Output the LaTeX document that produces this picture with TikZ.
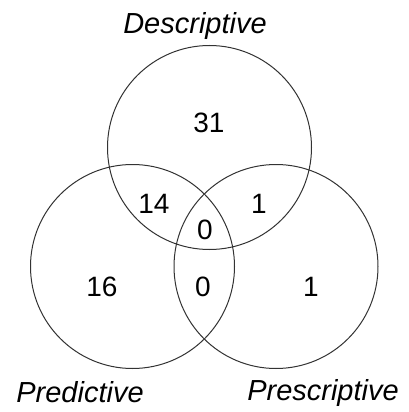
\documentclass[tikz,border=0pt]{standalone}
\usepackage{fontspec}
\setmainfont{Liberation Sans}
\usepackage{tikz}
\usetikzlibrary{positioning}

\begin{document}
\begin{tikzpicture}[x=1pt, y=-1pt,
    set/.style={circle, draw=black!80, line width=1pt, minimum size=204pt, inner sep=0pt},
    count/.style={font=\fontsize{28}{33}\selectfont, anchor=base},
    setname/.style={font=\fontsize{29}{34}\selectfont\itshape, anchor=base}]
    \useasboundingbox (0,0) rectangle (409,412);

    % the three sets
    \node [set] (desc) at (209.5,147.5) {};
    \node [set] (pred) at (132.5,266.5) {};
    \node [set] (presc) at (276,266.5) {};

    % set names
    \node [setname] (ldesc) at (195,34) {Descriptive};
    \node [setname] (lpred) at (80,402) {Predictive};
    \node [setname] (lpresc) at (323,400) {Prescriptive};

    % counts
    \node [count] (n31) at (209,132) {31};
    \node [count] (n14) at (154,213) {14};
    \node [count] (n1a) at (259,213) {1};
    \node [count] (n0a) at (205,239) {0};
    \node [count] (n16) at (102,296) {16};
    \node [count] (n0b) at (203,296) {0};
    \node [count] (n1b) at (311,296) {1};
\end{tikzpicture}
\end{document}
